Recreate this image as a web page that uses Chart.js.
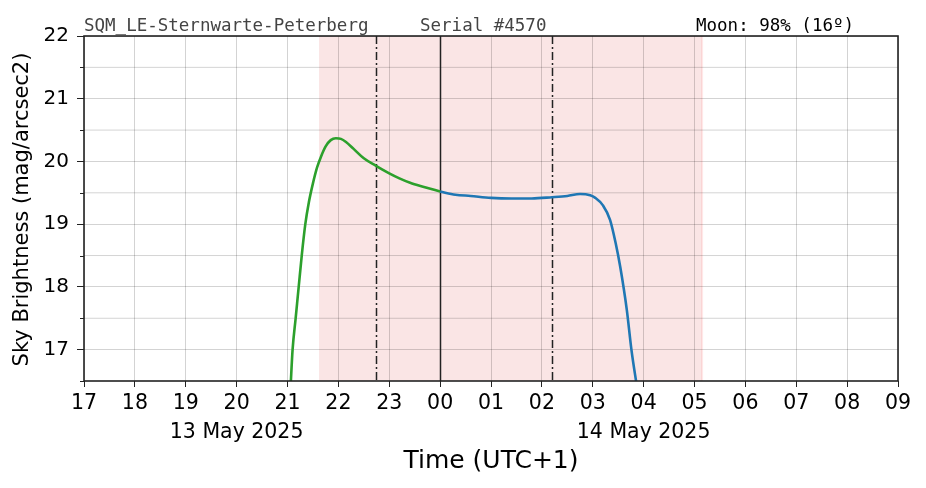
<!DOCTYPE html>
<html>
<head>
<meta charset="utf-8">
<script src="https://cdn.jsdelivr.net/npm/chart.js@4/dist/chart.umd.min.js"></script>
<style>
  html, body { margin: 0; padding: 0; background: #fff; }
  #wrap { width: 926px; height: 488px; }
</style>
</head>
<body>
<div id="wrap"><canvas id="sqm_chart" width="926" height="488"></canvas></div>
<script>
// Readings, hours counted from 00:00 on 13 May (UTC+1)
const evening_times = [21.06, 21.10, 21.16, 21.22, 21.28, 21.35, 21.42, 21.50, 21.58, 21.66, 21.75, 21.85, 21.95, 22.05, 22.15, 22.30, 22.50, 22.74, 23.00, 23.20, 23.41, 23.70, 24.00];
const evening_mags  = [16.40, 17.00, 17.50, 18.00, 18.50, 19.00, 19.35, 19.65, 19.90, 20.08, 20.24, 20.34, 20.37, 20.36, 20.31, 20.20, 20.05, 19.93, 19.81, 19.73, 19.66, 19.59, 19.52];

const morning_times = [24.00, 24.30, 24.60, 25.00, 25.40, 25.80, 26.20, 26.50, 26.75, 26.95, 27.05, 27.20, 27.34, 27.45, 27.54, 27.67, 27.76, 27.87];
const morning_mags  = [19.52, 19.47, 19.45, 19.42, 19.41, 19.41, 19.43, 19.45, 19.48, 19.46, 19.42, 19.30, 19.07, 18.70, 18.32, 17.63, 17.00, 16.40];

const x_ticks = [17, 18, 19, 20, 21, 22, 23, 24, 25, 26, 27, 28, 29, 30, 31, 32, 33];
const y_ticks = [17, 18, 19, 20, 21, 22];
const date_labels = {20: '13 May 2025', 28: '14 May 2025'};

// night (astronomical darkness), moon rise/set and midnight markers
const night_start = 21.62;
const night_end = 29.15;
const dashdot_marks = [22.74, 26.20];
const midnight = 24;

const header_left = 'SQM_LE-Sternwarte-Peterberg';
const header_mid = 'Serial #4570';
const header_right = 'Moon: 98% (16º)';

function pad2(v) {
    const h = ((v % 24) + 24) % 24;
    return (h < 10 ? '0' : '') + h;
}

function toPoints(xs, ys) {
    return xs.map((x, i) => ({x: x, y: ys[i]}));
}

// Shading under the grid
const shadePlugin = {
    id: 'shade',
    beforeDraw(chart) {
        const ctx = chart.ctx;
        const xs = chart.scales.x;
        const area = chart.chartArea;
        const x0 = xs.getPixelForValue(night_start);
        const x1 = xs.getPixelForValue(night_end);
        ctx.save();
        ctx.fillStyle = 'rgb(250, 229, 229)';
        ctx.fillRect(x0, area.top, x1 - x0, area.bottom - area.top);
        ctx.fillStyle = 'rgba(255, 0, 0, 0.08)';
        ctx.fillRect(x1 - 1, area.top, 2, area.bottom - area.top);
        ctx.restore();
    }
};

// half-step grid lines drawn like the full ones
const halfGridPlugin = {
    id: 'halfgrid',
    beforeDatasetsDraw(chart) {
        const ctx = chart.ctx;
        const ys = chart.scales.y;
        const area = chart.chartArea;
        ctx.save();
        ctx.strokeStyle = 'rgba(0, 0, 0, 0.22)';
        ctx.lineWidth = 0.8;
        for (let v = 17.5; v < 22; v += 1) {
            const py = ys.getPixelForValue(v);
            ctx.beginPath();
            ctx.moveTo(area.left, py);
            ctx.lineTo(area.right, py);
            ctx.stroke();
        }
        ctx.restore();
    }
};

// Vertical markers, frame, minor ticks and texts
const decorPlugin = {
    id: 'decor',
    beforeDatasetsDraw(chart) {
        const ctx = chart.ctx;
        const xs = chart.scales.x;
        const area = chart.chartArea;
        ctx.save();
        ctx.strokeStyle = '#222';
        ctx.lineWidth = 1.5;
        ctx.setLineDash([8, 3, 2, 3]);
        dashdot_marks.forEach((m) => {
            const px = Math.round(xs.getPixelForValue(m)) + 0.5;
            ctx.beginPath();
            ctx.moveTo(px, area.top);
            ctx.lineTo(px, area.bottom);
            ctx.stroke();
        });
        ctx.setLineDash([]);
        const mx = Math.round(xs.getPixelForValue(midnight)) + 0.5;
        ctx.beginPath();
        ctx.moveTo(mx, area.top);
        ctx.lineTo(mx, area.bottom);
        ctx.stroke();
        ctx.restore();
    },
    afterDraw(chart) {
        const ctx = chart.ctx;
        const area = chart.chartArea;
        const ys = chart.scales.y;
        ctx.save();
        // minor y ticks
        ctx.strokeStyle = '#222';
        ctx.lineWidth = 1;
        for (let v = 16.5; v <= 22; v += 1) {
            const py = Math.round(ys.getPixelForValue(v)) + 0.5;
            ctx.beginPath();
            ctx.moveTo(area.left - 4, py);
            ctx.lineTo(area.left, py);
            ctx.stroke();
        }
        // frame
        ctx.lineWidth = 1.6;
        ctx.strokeStyle = '#222';
        ctx.strokeRect(area.left, area.top, area.right - area.left, area.bottom - area.top);

        // header texts
        ctx.font = '17.5px "DejaVu Sans Mono"';
        ctx.textBaseline = 'alphabetic';
        ctx.textAlign = 'left';
        ctx.fillStyle = '#444';
        ctx.fillText(header_left, 84, 31);
        ctx.fillText(header_mid, 420, 31);
        ctx.fillStyle = '#000';
        ctx.fillText(header_right, 696, 31);

        // axis titles
        ctx.fillStyle = '#000';
        ctx.font = '21px "DejaVu Sans"';
        ctx.textAlign = 'center';
        ctx.textBaseline = 'middle';
        ctx.save();
        ctx.translate(23, (area.top + area.bottom) / 2 + 1);
        ctx.rotate(-Math.PI / 2);
        ctx.fillText('Sky Brightness (mag/arcsec2)', 0, 0);
        ctx.restore();
        ctx.font = '25px "DejaVu Sans"';
        ctx.fillText('Time (UTC+1)', (area.left + area.right) / 2, 461);
        ctx.restore();
    }
};

const sqm_canvas = document.getElementById('sqm_chart');

const sqm_config = {
    type: 'line',
    data: {
        datasets: [{
            data: toPoints(evening_times, evening_mags),
            borderColor: '#2ca02c',
            borderWidth: 2.6,
            pointRadius: 0,
            cubicInterpolationMode: 'monotone',
            fill: false
        }, {
            data: toPoints(morning_times, morning_mags),
            borderColor: '#1f77b4',
            borderWidth: 2.6,
            pointRadius: 0,
            cubicInterpolationMode: 'monotone',
            fill: false
        }]
    },
    options: {
        responsive: false,
        animation: false,
        events: [],
        layout: {padding: {top: 36, right: 28, left: 0, bottom: 0}},
        plugins: {
            legend: {display: false},
            tooltip: {enabled: false}
        },
        scales: {
            x: {
                type: 'linear',
                min: 17,
                max: 33,
                afterBuildTicks: (scale) => {
                    scale.ticks = x_ticks.map((v) => ({value: v}));
                },
                afterFit: (scale) => { scale.height = 107; },
                border: {display: false},
                grid: {
                    color: 'rgba(0, 0, 0, 0.22)',
                    lineWidth: 0.8,
                    tickColor: '#222',
                    tickLength: 6,
                    tickWidth: 1
                },
                ticks: {
                    autoSkip: false,
                    maxRotation: 0,
                    padding: 3,
                    color: '#000',
                    font: {family: 'DejaVu Sans', size: 20.5, lineHeight: 1.38},
                    callback: (v) => date_labels[v] ? [pad2(v), date_labels[v]] : pad2(v)
                }
            },
            y: {
                type: 'linear',
                min: 16.5,
                max: 22,
                afterBuildTicks: (scale) => {
                    scale.ticks = y_ticks.map((v) => ({value: v}));
                },
                afterFit: (scale) => { scale.width = 84; },
                border: {display: false},
                grid: {
                    color: 'rgba(0, 0, 0, 0.22)',
                    lineWidth: 0.8,
                    tickColor: '#222',
                    tickLength: 7,
                    tickWidth: 1
                },
                ticks: {
                    padding: 8,
                    color: '#000',
                    font: {family: 'DejaVu Sans', size: 20},
                    callback: (v) => String(v)
                }
            }
        }
    },
    plugins: [shadePlugin, halfGridPlugin, decorPlugin]
};

const sqmChart = new Chart(sqm_canvas, sqm_config);
</script>
</body>
</html>
